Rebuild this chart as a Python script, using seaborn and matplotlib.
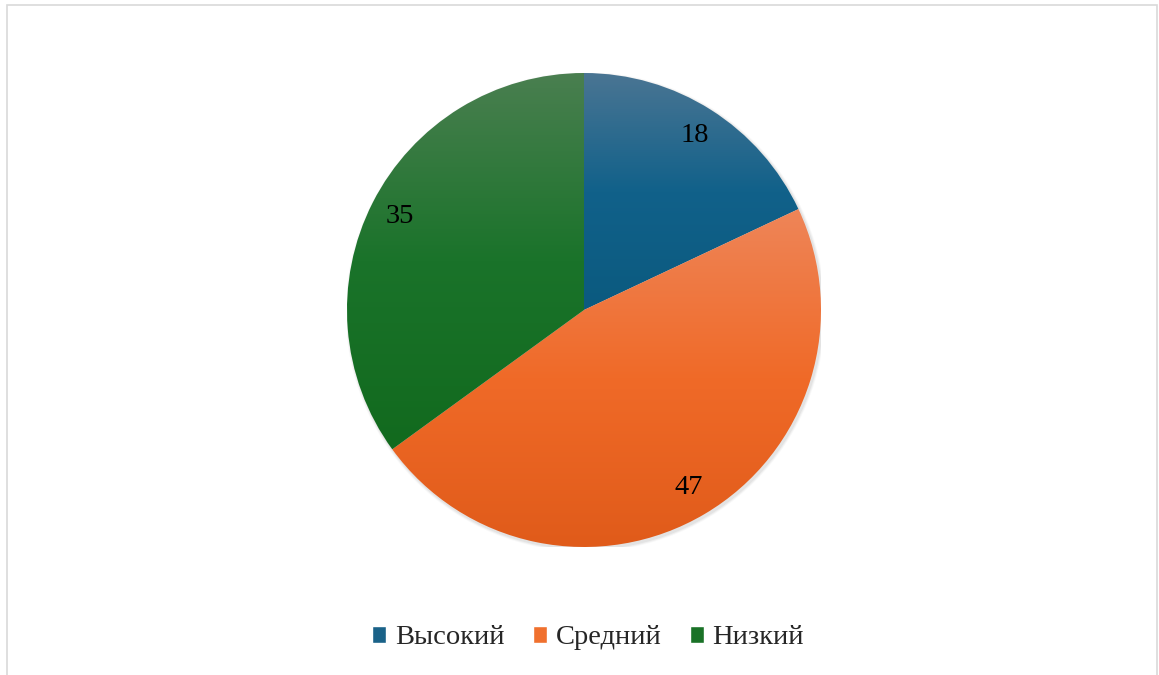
import numpy as np
import matplotlib
matplotlib.use("Agg")
import matplotlib.pyplot as plt
import seaborn as sns
from matplotlib.colors import LinearSegmentedColormap
from matplotlib.patches import Rectangle, Circle

categories = ["Высокий", "Средний", "Низкий"]
values = [18, 47, 35]
top_colors = ["#4a7593", "#ee8558", "#4a7f50"]
mid_colors = ["#11618a", "#f06a28", "#1a732a"]
bottom_colors = ["#0b5a7f", "#e05b1a", "#126a1e"]
legend_colors = ["#1a6288", "#f0702e", "#1a7227"]

sns.set_theme(style="white")
plt.rcParams['font.family'] = ['Liberation Serif', 'DejaVu Serif']

fig = plt.figure(figsize=(11.59, 6.75), dpi=100)
fig.patch.set_facecolor("white")
fig.add_artist(Rectangle((7 / 1159, -0.01), 1150 / 1159, 1 - 5 / 675 + 0.01,
                         transform=fig.transFigure, fill=False,
                         edgecolor="#d9d9d9", lw=1.2))

ax = fig.add_axes([347 / 1159, 128 / 675, 474 / 1159, 474 / 675])
wedges, texts = ax.pie(values, startangle=90, counterclock=False,
                       colors=legend_colors, labels=[str(v) for v in values],
                       labeldistance=0.87, radius=1.0,
                       textprops=dict(fontsize=20.5, color="black", ha="center", va="center"))
ax.set_aspect("equal")
ax.axis("off")

# soft shadow
for k, a in enumerate([0.10, 0.08, 0.05]):
    ax.add_patch(Circle((0.006, -0.008), 1.0 + 0.004 * (k + 1), facecolor="#808080",
                        edgecolor="none", alpha=a, zorder=0.5))

for w, ct, cm, cb in zip(wedges, top_colors, mid_colors, bottom_colors):
    ext = w.get_path().get_extents()
    cmap = LinearSegmentedColormap.from_list("g", [(0, cb), (0.5, cm), (1, ct)])
    grad = np.linspace(0, 1, 256).reshape(-1, 1)
    im = ax.imshow(grad, cmap=cmap, origin="lower", aspect="auto",
                   extent=[ext.x0, ext.x1, ext.y0, ext.y1], zorder=w.get_zorder() + 0.1,
                   interpolation="bilinear")
    im.set_clip_path(w)
    w.set_facecolor("none")
    w.set_edgecolor("none")

for t in texts:
    t.set_zorder(5)

ax.set_xlim(-1, 1)
ax.set_ylim(-1, 1)

handles = [Rectangle((0, 0), 1, 1, facecolor=c) for c in legend_colors]
fig.legend(handles, categories, loc="center", bbox_to_anchor=(588 / 1159, 1 - 638 / 675),
           ncol=3, frameon=False, fontsize=20.5, handlelength=0.5, handleheight=0.5,
           handletextpad=0.3, columnspacing=1.0)

fig.savefig("out.png", dpi=100, facecolor="white")
